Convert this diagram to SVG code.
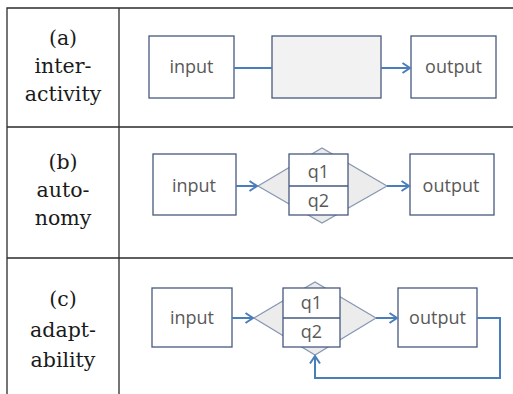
<svg xmlns="http://www.w3.org/2000/svg" width="513" height="394" viewBox="0 0 513 394">
<defs>
<marker id="arr" markerWidth="11" markerHeight="12" refX="9" refY="6" orient="auto" markerUnits="userSpaceOnUse">
<path d="M1.5,1 L9,6 L1.5,11" fill="none" stroke="#4a7ebb" stroke-width="2"/>
</marker>
</defs>
<style>
.grid{stroke:#2b2b2b;stroke-width:1.3;fill:none}
.lbl{font-family:"DejaVu Serif","Liberation Serif",serif;font-size:20.5px;fill:#1a1a1a;text-anchor:middle}
.box{fill:#ffffff;stroke:#45597e;stroke-width:1.3}
.mid{fill:#f2f2f2;stroke:#45597e;stroke-width:1.3}
.dia{fill:#ececec;stroke:#8797b2;stroke-width:1.2}
.t{font-family:"Open Sans","Liberation Sans",sans-serif;font-size:18px;fill:#595959;text-anchor:middle}
.con{fill:none;stroke:#4a7ebb;stroke-width:2}
</style>
<rect width="513" height="394" fill="#ffffff"/>
<g id="table">
<path class="grid" d="M7,394 V8 H513 M119,8 V394 M7,127 H513 M7,258 H513"/>
<text class="lbl" x="63" y="45">(a)</text>
<text class="lbl" x="63" y="73">inter-</text>
<text class="lbl" x="63" y="101">activity</text>
<text class="lbl" x="63" y="169">(b)</text>
<text class="lbl" x="63" y="197">auto-</text>
<text class="lbl" x="63" y="225">nomy</text>
<text class="lbl" x="63" y="306">(c)</text>
<text class="lbl" x="63" y="337">adapt-</text>
<text class="lbl" x="63" y="367">ability</text>
</g>
<g id="a-input"><rect class="box" x="149" y="36" width="85" height="62"/><text class="t" x="191.5" y="73">input</text></g>
<g id="a-mid"><rect class="mid" x="272" y="36" width="109" height="62"/></g>
<g id="a-output"><rect class="box" x="411" y="36" width="85" height="62"/><text class="t" x="453.5" y="73">output</text></g>
<g id="b-input"><rect class="box" x="153" y="154" width="83" height="61"/><text class="t" x="194" y="191.5">input</text></g>
<g id="b-core">
<polygon class="dia" points="258,186 322,148 387,186 322,223"/>
<rect class="box" x="289" y="154" width="59" height="61"/>
<line x1="289" y1="186" x2="348" y2="186" stroke="#45597e" stroke-width="1.3"/>
<text class="t" x="318.5" y="178">q1</text>
<text class="t" x="318.5" y="207">q2</text>
</g>
<g id="b-output"><rect class="box" x="410" y="154" width="84" height="61"/><text class="t" x="451" y="191.5">output</text></g>
<g id="c-input"><rect class="box" x="152" y="288" width="80" height="59"/><text class="t" x="192" y="324">input</text></g>
<g id="c-core">
<polygon class="dia" points="254,318 315,282 376,318 315,355"/>
<rect class="box" x="283" y="288" width="57" height="59"/>
<line x1="283" y1="318" x2="340" y2="318" stroke="#45597e" stroke-width="1.3"/>
<text class="t" x="311.5" y="309">q1</text>
<text class="t" x="311.5" y="338">q2</text>
</g>
<g id="c-output"><rect class="box" x="398" y="288" width="79" height="59"/><text class="t" x="437.5" y="324">output</text></g>
<g id="connectors">
<line class="con" x1="234" y1="68" x2="272" y2="68"/>
<line class="con" x1="381" y1="68" x2="410" y2="68" marker-end="url(#arr)"/>
<line class="con" x1="236" y1="186" x2="257" y2="186" marker-end="url(#arr)"/>
<line class="con" x1="387" y1="186" x2="409" y2="186" marker-end="url(#arr)"/>
<line class="con" x1="232" y1="318" x2="253" y2="318" marker-end="url(#arr)"/>
<line class="con" x1="376" y1="318" x2="397" y2="318" marker-end="url(#arr)"/>
<path class="con" d="M477,318 H500 V378 H315 V356" marker-end="url(#arr)"/>
</g>
</svg>
